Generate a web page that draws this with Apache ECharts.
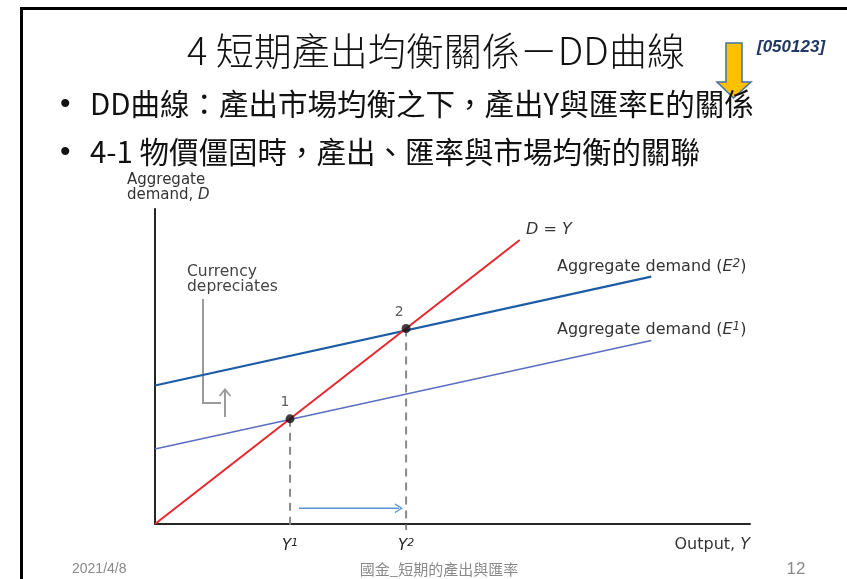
<!DOCTYPE html>
<html>
<head>
<meta charset="utf-8">
<script src="https://cdn.jsdelivr.net/npm/echarts@6/dist/echarts.min.js"></script>
<style>
html,body{margin:0;padding:0;background:#fff;}
#chart{width:847px;height:579px;}
</style>
</head>
<body>
<div id="chart"></div>
<script>
// ---- data ----
const outputLevels = [22.7, 42.2];            // Y1, Y2
const tickSuffix = ['1', '2'];                // Y¹, Y²
const dEqualsY = [[0, 0], [61.3, 61.3]];      // D = Y
const adE2 = [[0, 29.9], [83.4, 53.4]];       // Aggregate demand (E2)
const adE1 = [[0, 16.2], [83.4, 39.6]];       // Aggregate demand (E1)
const equilibria = [[22.7, 22.7], [42.2, 42.2]];
const pointNames = ['1', '2'];
const shiftArrow = [[24.2, 3.4], [41.0, 3.4]];
const dropBottom = -1.3;

const CJK = '"Noto Sans CJK TC", "Noto Sans CJK SC", sans-serif';
const AX = '"DejaVu Sans", sans-serif';

const chart = echarts.init(document.getElementById('chart'), null, {renderer: 'canvas'});

const dropSeries = outputLevels.map((v, i) => ({
  type: 'line',
  data: [[v, equilibria[i][1]], [v, dropBottom]],
  symbol: 'none',
  clip: false,
  lineStyle: {color: '#8a8a8a', width: 2, type: [8, 6]},
  z: 1,
  silent: true
}));

const chevron = 'path://M0,10 L5,0 L10,10 L8.6,10 L5,2.8 L1.4,10 Z';
const sup = {fontStyle: 'italic', fontFamily: AX, fontSize: 12, fill: '#333', color: '#222', verticalAlign: 'top', padding: [0, 0, 6, 0]};

const option = {
  animation: false,
  backgroundColor: '#ffffff',
  grid: {left: 155, right: 97, top: 209, bottom: 55},
  xAxis: {
    type: 'value', min: 0, max: 100,
    axisLine: {show: true, onZero: false, lineStyle: {color: '#262626', width: 2}},
    axisTick: {show: false},
    splitLine: {show: false},
    axisLabel: {
      customValues: outputLevels,
      margin: 14,
      fontFamily: AX, fontSize: 15, fontStyle: 'italic', color: '#222',
      formatter: function (v) {
        const i = outputLevels.indexOf(v);
        return i >= 0 ? '{i|Y}{s|' + tickSuffix[i] + '}' : '';
      },
      rich: {
        i: {fontStyle: 'italic', fontFamily: AX, fontSize: 15, color: '#222'},
        s: {fontFamily: AX, fontSize: 11, color: '#222', verticalAlign: 'top', padding: [0, 0, 6, 0]}
      }
    }
  },
  yAxis: {
    type: 'value', min: 0, max: 68,
    axisLine: {show: true, onZero: false, lineStyle: {color: '#262626', width: 2}},
    axisTick: {show: false},
    splitLine: {show: false},
    axisLabel: {show: false}
  },
  series: [
    ...dropSeries,
    {
      type: 'line', data: adE1, symbol: 'none',
      lineStyle: {color: '#5a6ec2', width: 1.4}, z: 2, silent: true
    },
    {
      type: 'line', data: adE2, symbol: 'none',
      lineStyle: {color: '#1c5ca6', width: 2.2}, z: 3, silent: true
    },
    {
      type: 'line', data: dEqualsY, symbol: 'none',
      lineStyle: {color: '#e8262e', width: 2}, z: 4, silent: true
    },
    {
      type: 'line',
      data: [
        {value: shiftArrow[0], symbol: 'none'},
        {value: shiftArrow[1], symbol: chevron, symbolSize: [10, 8], symbolRotate: -90,
         itemStyle: {color: '#5b8fd6'}}
      ],
      showAllSymbol: true,
      lineStyle: {color: '#5b8fd6', width: 1.5},
      itemStyle: {color: '#5b8fd6'},
      z: 5, silent: true
    },
    {
      type: 'scatter',
      data: equilibria.map((p, i) => ({
        value: p,
        label: {
          show: true, formatter: pointNames[i], position: 'top',
          offset: i === 0 ? [-5, 0] : [-7, 0],
          fontFamily: AX, fontSize: 14, color: '#333'
        }
      })),
      symbolSize: 9,
      itemStyle: {color: '#111'},
      z: 6, silent: true
    }
  ],
  graphic: [
    // slide border
    {type: 'polyline', shape: {points: [[21.5, 579], [21.5, 8.5], [847, 8.5]]},
     style: {stroke: '#000', lineWidth: 3, fill: null}},
    // title
    {type: 'text', x: 436, y: 51,
     style: {text: '4 短期產出均衡關係－DD曲線', font: '300 38px ' + CJK, fill: '#111',
             textAlign: 'center', textVerticalAlign: 'middle'}},
    // yellow arrow
    {type: 'polygon',
     shape: {points: [[726, 43], [742, 43], [742, 82], [751, 82], [733.5, 98], [717, 82], [726, 82]]},
     style: {fill: '#ffc000', stroke: '#41719c', lineWidth: 1.5}},
    {type: 'text', x: 757, y: 47,
     style: {text: '[050123]', font: 'italic bold 17px "Liberation Sans", sans-serif', fill: '#1f3864',
             textVerticalAlign: 'middle'}},
    // bullets
    {type: 'text', x: 60, y: 105,
     style: {text: '•', font: '30px "Liberation Sans", sans-serif', fill: '#111', textVerticalAlign: 'middle'}},
    {type: 'text', x: 90, y: 104,
     style: {text: 'DD曲線：產出市場均衡之下，產出Y與匯率E的關係', font: '29.5px ' + CJK, fill: '#111',
             textVerticalAlign: 'middle'}},
    {type: 'text', x: 60, y: 153,
     style: {text: '•', font: '30px "Liberation Sans", sans-serif', fill: '#111', textVerticalAlign: 'middle'}},
    {type: 'text', x: 90, y: 152,
     style: {text: '4-1 物價僵固時，產出、匯率與市場均衡的關聯', font: '29.5px ' + CJK, fill: '#111',
             textVerticalAlign: 'middle'}},
    // axis names
    {type: 'text', x: 127, y: 173,
     style: {text: 'Aggregate\ndemand, {i|D}', font: '15px ' + AX, fill: '#333', lineHeight: 15,
             rich: {i: {fontStyle: 'italic', fontFamily: AX, fontSize: 15, fill: '#333'}}}},
    {type: 'text', x: 750, y: 545,
     style: {text: 'Output, {i|Y}', font: '16px ' + AX, fill: '#333', textAlign: 'right',
             textVerticalAlign: 'middle',
             rich: {i: {fontStyle: 'italic', fontFamily: AX, fontSize: 16, fill: '#333'}}}},
    // curve labels
    {type: 'text', x: 526, y: 230,
     style: {text: '{i|D} = {i|Y}', font: '16px ' + AX, fill: '#333', textVerticalAlign: 'middle',
             rich: {i: {fontStyle: 'italic', fontFamily: AX, fontSize: 16, fill: '#333'}}}},
    {type: 'text', x: 557, y: 267,
     style: {text: 'Aggregate demand ({i|E}{s|2})', font: '16px ' + AX, fill: '#333', textVerticalAlign: 'middle',
             rich: {i: {fontStyle: 'italic', fontFamily: AX, fontSize: 16, fill: '#333'}, s: sup}}},
    {type: 'text', x: 557, y: 330,
     style: {text: 'Aggregate demand ({i|E}{s|1})', font: '16px ' + AX, fill: '#333', textVerticalAlign: 'middle',
             rich: {i: {fontStyle: 'italic', fontFamily: AX, fontSize: 16, fill: '#333'}, s: sup}}},
    // currency depreciates annotation
    {type: 'text', x: 187, y: 264,
     style: {text: 'Currency\ndepreciates', font: '15.5px ' + AX, fill: '#444', lineHeight: 15}},
    {type: 'polyline', shape: {points: [[203, 299], [203, 403], [221, 403]]},
     style: {stroke: '#9a9a9a', lineWidth: 2, fill: null}},
    {type: 'line', shape: {x1: 225, y1: 417, x2: 225, y2: 390},
     style: {stroke: '#9a9a9a', lineWidth: 2}},
    {type: 'polyline', shape: {points: [[219.5, 396], [225, 389.5], [230.5, 396]]},
     style: {stroke: '#9a9a9a', lineWidth: 1.8, fill: null}},
    // footer
    {type: 'text', x: 72, y: 569,
     style: {text: '2021/4/8', font: '14px "Liberation Sans", sans-serif', fill: '#8a8a8a', textVerticalAlign: 'middle'}},
    {type: 'text', x: 439, y: 569,
     style: {text: '國金_短期的產出與匯率', font: '15px ' + CJK, fill: '#8a8a8a', textAlign: 'center',
             textVerticalAlign: 'middle'}},
    {type: 'text', x: 796, y: 569,
     style: {text: '12', font: '17px "Liberation Sans", sans-serif', fill: '#8a8a8a', textAlign: 'center',
             textVerticalAlign: 'middle'}}
  ]
};

chart.setOption(option);
</script>
</body>
</html>
